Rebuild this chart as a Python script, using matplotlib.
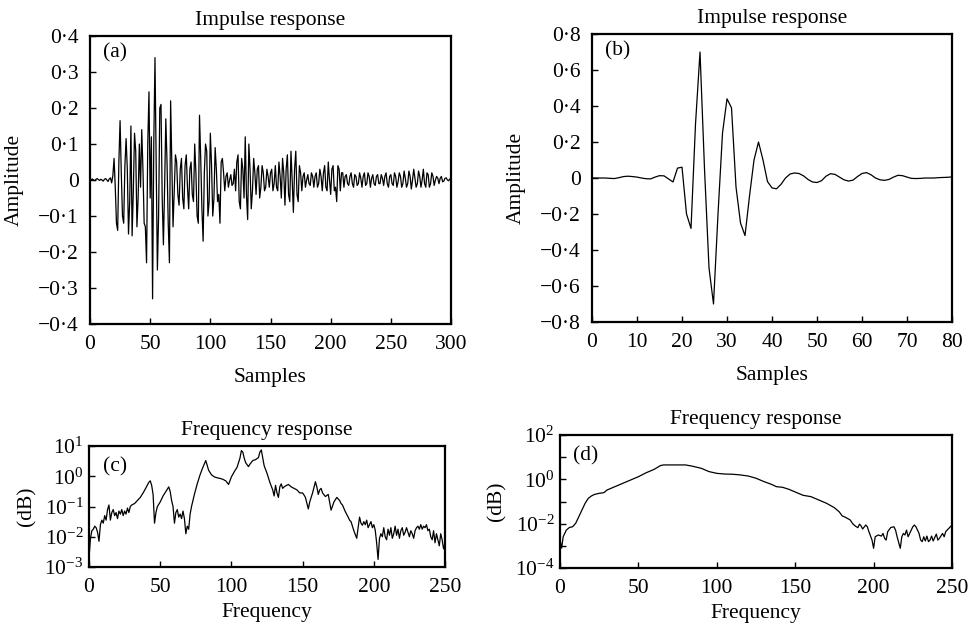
import numpy as np
import matplotlib
matplotlib.use("Agg")
import matplotlib.pyplot as plt
from matplotlib.ticker import FuncFormatter, FixedLocator, LogLocator, NullFormatter

plt.rcParams['font.family'] = ['Liberation Serif', 'DejaVu Serif']
plt.rcParams['mathtext.fontset'] = 'stix'

# (a) impulse response, samples 0..300
imp_a = [
    0.002, 0.001, 0.003, 0.0, -0.002, 0.002, 0.004, 0.001, -0.001, 0.002,
    0.0, -0.003, 0.002, 0.004, 0.0, -0.004, 0.003, 0.006, -0.008, 0.012,
    0.06, -0.02, -0.12, -0.14, 0.05, 0.165, 0.02, -0.1, -0.12, 0.04,
    0.115, 0.03, -0.15, -0.06, 0.15, -0.155, -0.03, 0.13, 0.08, -0.13,
    -0.05, 0.1, -0.02, 0.14, 0.03, -0.12, -0.13, -0.23, 0.1, 0.245,
    -0.05, 0.12, -0.33, 0.1, 0.34, 0.05, -0.25, -0.1, 0.2, 0.21,
    -0.05, -0.18, -0.02, 0.17, 0.05, -0.12, -0.23, 0.22, 0.05, -0.13,
    -0.03, 0.07, 0.05, -0.04, -0.07, 0.03, 0.06, -0.05, -0.08, 0.04,
    0.07, -0.02, -0.08, 0.03, 0.05, -0.04, -0.06, 0.1, 0.02, -0.1,
    -0.12, 0.18, 0.06, -0.08, -0.17, 0.02, 0.1, 0.08, -0.1, -0.06,
    0.13, 0.04, -0.1, -0.05, 0.09, 0.03, -0.06, -0.04, -0.12, 0.05,
    0.06, 0.02, -0.03, 0.01, 0.02, -0.02, 0.0, 0.015, -0.015, -0.01,
    0.03, -0.03, 0.05, 0.07, -0.06, -0.08, 0.06, 0.03, -0.05, 0.12,
    -0.04, -0.11, 0.1, 0.03, -0.08, -0.03, 0.06, 0.02, -0.04, 0.03,
    0.04, -0.05, -0.02, 0.04, 0.02, -0.03, -0.02, 0.03, 0.01, -0.02,
    0.02, 0.03, -0.03, -0.01, 0.04, -0.02, -0.03, 0.05, 0.01, -0.05,
    0.06, 0.02, -0.07, 0.03, 0.07, -0.04, -0.06, 0.08, 0.0, -0.09,
    0.03, 0.08, -0.04, -0.06, 0.04, 0.02, -0.03, 0.01, 0.02, -0.02,
    0.0, 0.015, -0.01, -0.015, 0.02, 0.01, -0.02, 0.01, 0.02, -0.02,
    -0.01, 0.03, 0.01, -0.03, 0.02, 0.04, -0.02, -0.03, 0.05, 0.0,
    -0.04, 0.03, 0.04, -0.03, -0.02, -0.06, 0.04, 0.03, -0.03, 0.02,
    0.02, -0.02, 0.01, 0.015, -0.01, -0.015, 0.01, 0.02, -0.01, -0.02,
    0.015, 0.01, -0.015, -0.01, 0.02, 0.005, -0.02, 0.01, 0.02, -0.015,
    -0.01, 0.02, 0.01, -0.02, 0.005, 0.015, -0.01, -0.015, 0.01, 0.015,
    -0.01, -0.01, 0.015, 0.005, -0.015, 0.01, 0.02, -0.01, -0.02, 0.01,
    0.015, -0.01, -0.015, 0.02, 0.01, -0.02, -0.005, 0.02, 0.01, -0.02,
    -0.01, 0.025, 0.005, -0.02, -0.01, 0.025, 0.01, -0.025, 0.0, 0.03,
    0.005, -0.02, -0.01, 0.025, 0.01, -0.02, 0.0, 0.03, -0.01, -0.02,
    0.02, 0.015, -0.02, -0.01, 0.02, 0.01, -0.015, 0.0, 0.01, 0.005,
    -0.01, 0.005, 0.01, -0.005, -0.003, 0.005, 0.006, 0.0, -0.002, 0.003,
    0.002,
]

# (b) impulse response, samples 0..80
imp_b = [
    0, 0, 0, 0, -0.002, -0.003, 0.002, 0.008, 0.01, 0.008,
    0.005, 0, -0.004, -0.005, 0.005, 0.013, 0.012, -0.005, -0.022, 0.055,
    0.06, -0.2, -0.28, 0.3, 0.70, 0.05, -0.5, -0.70, -0.2, 0.25,
    0.44, 0.39, -0.05, -0.25, -0.32, -0.1, 0.1, 0.20, 0.1, -0.02,
    -0.055, -0.06, -0.035, 0.0, 0.022, 0.028, 0.025, 0.012, -0.008, -0.022,
    -0.025, -0.015, 0.01, 0.024, 0.02, 0.005, -0.01, -0.017, -0.012, 0.008,
    0.025, 0.03, 0.018, 0.0, -0.01, -0.013, -0.008, 0.005, 0.015, 0.013,
    0.005, -0.002, -0.003, -0.002, 0, 0, 0, 0.002, 0.003, 0.004,
    0.006,
]

# (c) frequency response: frequency and log10 of magnitude
freq_c = [
    0, 1, 2, 3, 4, 5, 6, 7, 8, 9, 10, 11, 12, 13, 14, 15, 16, 17, 18, 19,
    20, 21, 22, 23, 24, 25, 26, 27, 28, 29, 30, 32, 34, 36, 38, 40, 42, 43, 44, 45,
    46, 47, 48, 50, 52, 54, 56, 57, 58, 59, 60, 61, 62, 63, 64, 65, 66, 67, 68, 69,
    70, 71, 72, 73, 74, 76, 78, 80, 82, 84, 86, 88, 90, 92, 94, 96, 98, 100, 102, 104,
    106, 107, 108, 109, 110, 112, 113, 115, 117, 119, 120, 121, 122, 123, 125, 127, 129, 130, 131, 132,
    133, 134, 135, 136, 137, 138, 140, 142, 144, 146, 148, 150, 151, 152, 154, 155, 157, 159, 160, 161,
    162, 163, 164, 166, 168, 170, 172, 174, 176, 177, 178, 180, 182, 183, 184, 186, 188, 189, 190, 191,
    192, 193, 194, 195, 196, 197, 198, 199, 200, 201, 202, 203, 204, 205, 206, 207, 208, 209, 210, 211,
    212, 213, 214, 215, 216, 217, 218, 219, 220, 221, 222, 223, 224, 225, 226, 227, 228, 229, 230, 231,
    232, 233, 234, 235, 236, 237, 238, 239, 240, 241, 242, 243, 244, 245, 246, 247, 248, 249, 250,
]
logmag_c = [
    -2.7, -2.05, -1.8, -1.75, -1.65, -1.7, -1.85, -2.15, -1.6, -1.45, -1.55, -1.3, -1.45, -1.1, -0.95, -1.45, -1.2, -1.1, -1.3, -1.2,
    -1.4, -1.15, -1.25, -1.1, -1.3, -1.15, -1.25, -1.05, -1.2, -1.0, -0.95, -0.9, -0.8, -0.7, -0.55, -0.38, -0.2, -0.15, -0.3, -0.6,
    -1.55, -1.2, -1.0, -0.85, -0.65, -0.5, -0.35, -0.5, -0.8, -1.0, -1.55, -1.2, -1.1, -1.35, -1.25, -1.4, -1.15, -1.4, -1.9, -1.65,
    -1.75, -1.25, -1.0, -0.8, -0.6, -0.25, 0.05, 0.3, 0.52, 0.2, 0.05, -0.02, -0.05, -0.07, -0.1, -0.15, -0.27, -0.02, 0.15, 0.3,
    0.6, 0.85, 0.8, 0.6, 0.45, 0.32, 0.4, 0.52, 0.55, 0.62, 0.8, 0.87, 0.6, 0.35, 0.1, -0.2, -0.45, -0.65, -0.3, -0.55,
    -0.7, -0.35, -0.25, -0.4, -0.35, -0.32, -0.27, -0.35, -0.4, -0.45, -0.55, -0.55, -0.62, -0.7, -1.08, -0.85, -0.55, -0.18, -0.35, -0.6,
    -0.45, -0.4, -0.55, -0.67, -0.6, -1.12, -0.85, -0.7, -0.8, -0.9, -0.95, -1.17, -1.35, -1.45, -1.5, -1.8, -2.05, -1.7, -1.35, -1.55,
    -1.62, -1.5, -1.6, -1.45, -1.7, -1.6, -1.5, -1.7, -1.6, -1.78, -2.2, -2.75, -2.05, -1.9, -2.0, -1.7, -2.0, -2.1, -1.75, -1.95,
    -1.7, -2.05, -1.9, -1.65, -1.95, -1.75, -2.05, -1.8, -1.7, -1.95, -1.85, -1.7, -1.85, -2.0, -1.8, -1.9, -2.05, -1.8, -1.7, -1.65,
    -1.75, -1.6, -1.75, -1.65, -1.7, -1.6, -1.8, -1.75, -2.0, -2.1, -1.8, -2.2, -1.9, -2.1, -2.3, -1.9, -2.1, -2.4, -2.2,
]

# (d) frequency response: frequency and log10 of magnitude
freq_d = [
    0, 1, 2, 4, 6, 8, 10, 12, 14, 16, 18, 20, 22, 25, 28, 30, 35, 40, 45, 50,
    55, 60, 64, 66, 70, 80, 84, 90, 95, 100, 105, 110, 115, 120, 125, 130, 135, 138, 142, 146,
    150, 155, 160, 165, 170, 175, 178, 180, 182, 185, 187, 189, 190, 191, 192, 193, 195, 196, 197, 199,
    200, 201, 203, 205, 206, 207, 208, 209, 211, 213, 214, 215, 217, 218, 219, 220, 221, 222, 224, 225,
    226, 227, 229, 230, 231, 232, 233, 234, 235, 236, 237, 238, 240, 241, 242, 244, 245, 246, 248, 250,
]
logmag_d = [
    -2.74, -3.1, -2.59, -2.29, -2.17, -2.14, -1.98, -1.68, -1.38, -1.08, -0.86, -0.75, -0.68, -0.63, -0.6, -0.48, -0.33, -0.18, -0.03, 0.12,
    0.30, 0.45, 0.62, 0.65, 0.65, 0.65, 0.6, 0.5, 0.35, 0.27, 0.24, 0.23, 0.2, 0.15, 0.05, -0.1, -0.23, -0.33, -0.36, -0.45,
    -0.57, -0.72, -0.78, -0.93, -1.08, -1.28, -1.46, -1.65, -1.71, -1.83, -2.03, -2.14, -2.18, -2.02, -2.1, -2.24, -2.06, -2.14, -2.36, -2.74,
    -3.11, -2.59, -2.51, -2.56, -2.44, -2.66, -2.74, -2.36, -2.17, -2.14, -2.29, -2.59, -3.11, -2.59, -2.44, -2.51, -2.29, -2.59, -2.29, -2.14,
    -2.06, -2.14, -2.44, -2.74, -2.81, -2.59, -2.78, -2.56, -2.81, -2.74, -2.56, -2.78, -2.47, -2.74, -2.66, -2.44, -2.59, -2.36, -2.21, -2.06,
]


def dot_fmt(v, pos):
    if abs(v) < 1e-9:
        return '0'
    s = f'{abs(v):.1f}'.replace('.', '\u00b7')
    return ('\u2212' + s) if v < 0 else s


fs = 15.5
fig = plt.figure(figsize=(9.75, 6.3), dpi=100)


def style(ax):
    for sp in ax.spines.values():
        sp.set_linewidth(1.6)
    ax.tick_params(direction='in', length=4.5, width=1, labelsize=fs, pad=8,
                   top=False, right=False)
    ax.tick_params(which='minor', direction='in', length=2.5, width=0.8)


# (a)
ax1 = fig.add_axes([0.0923, 0.4857, 0.3703, 0.4571])
ax1.plot(np.arange(len(imp_a)), imp_a, color='black', lw=0.9)
ax1.set_xlim(0, 300)
ax1.set_ylim(-0.4, 0.4)
ax1.set_xticks(np.arange(0, 301, 50))
ax1.set_yticks(np.arange(-0.4, 0.41, 0.1))
ax1.yaxis.set_major_formatter(FuncFormatter(dot_fmt))
ax1.set_title('Impulse response', fontsize=fs, pad=8)
ax1.set_xlabel('Samples', fontsize=fs, labelpad=10)
ax1.set_ylabel('Amplitude', fontsize=fs, labelpad=10)
ax1.text(0.036, 0.94, '(a)', transform=ax1.transAxes, fontsize=fs, va='center')
style(ax1)

# (b)
ax2 = fig.add_axes([0.6072, 0.4889, 0.3692, 0.4571])
ax2.plot(np.arange(len(imp_b)), imp_b, color='black', lw=0.9)
ax2.set_xlim(0, 80)
ax2.set_ylim(-0.8, 0.8)
ax2.set_xticks(np.arange(0, 81, 10))
ax2.set_yticks(np.arange(-0.8, 0.81, 0.2))
ax2.yaxis.set_major_formatter(FuncFormatter(dot_fmt))
ax2.set_title('Impulse response', fontsize=fs, pad=8)
ax2.set_xlabel('Samples', fontsize=fs, labelpad=10)
ax2.set_ylabel('Amplitude', fontsize=fs, labelpad=10)
ax2.text(0.036, 0.94, '(b)', transform=ax2.transAxes, fontsize=fs, va='center')
style(ax2)

# (c)
ax3 = fig.add_axes([0.0913, 0.1, 0.3651, 0.192])
ax3.plot(freq_c, np.power(10.0, logmag_c), color='black', lw=0.9)
ax3.set_yscale('log')
ax3.set_xlim(0, 250)
ax3.set_ylim(1e-3, 1e1)
ax3.set_xticks(np.arange(0, 251, 50))
ax3.yaxis.set_major_locator(FixedLocator([1e-3, 1e-2, 1e-1, 1e0, 1e1]))
ax3.yaxis.set_minor_locator(LogLocator(base=10, subs=np.arange(2, 10)))
ax3.yaxis.set_minor_formatter(NullFormatter())
ax3.set_title('Frequency response', fontsize=fs, pad=8)
ax3.set_xlabel('Frequency', fontsize=fs, labelpad=4)
ax3.set_ylabel('(dB)', fontsize=fs, labelpad=6)
ax3.text(0.04, 0.83, '(c)', transform=ax3.transAxes, fontsize=fs, va='center')
style(ax3)
ax3.tick_params(axis='y', pad=4)

# (d)
ax4 = fig.add_axes([0.5744, 0.0984, 0.402, 0.2111])
ax4.plot(freq_d, np.power(10.0, logmag_d), color='black', lw=0.9)
ax4.set_yscale('log')
ax4.set_xlim(0, 250)
ax4.set_ylim(1e-4, 1e2)
ax4.set_xticks(np.arange(0, 251, 50))
ax4.yaxis.set_major_locator(FixedLocator([1e-4, 1e-2, 1e0, 1e2]))
ax4.yaxis.set_minor_locator(FixedLocator([1e-3, 1e-1, 1e1]))
ax4.yaxis.set_minor_formatter(NullFormatter())
ax4.set_title('Frequency response', fontsize=fs, pad=8)
ax4.set_xlabel('Frequency', fontsize=fs, labelpad=4)
ax4.set_ylabel('(dB)', fontsize=fs, labelpad=6)
ax4.text(0.033, 0.84, '(d)', transform=ax4.transAxes, fontsize=fs, va='center')
style(ax4)
ax4.tick_params(axis='y', pad=4)
ax4.tick_params(which='minor', length=4.5, width=1)

fig.savefig('out.png', dpi=100)
